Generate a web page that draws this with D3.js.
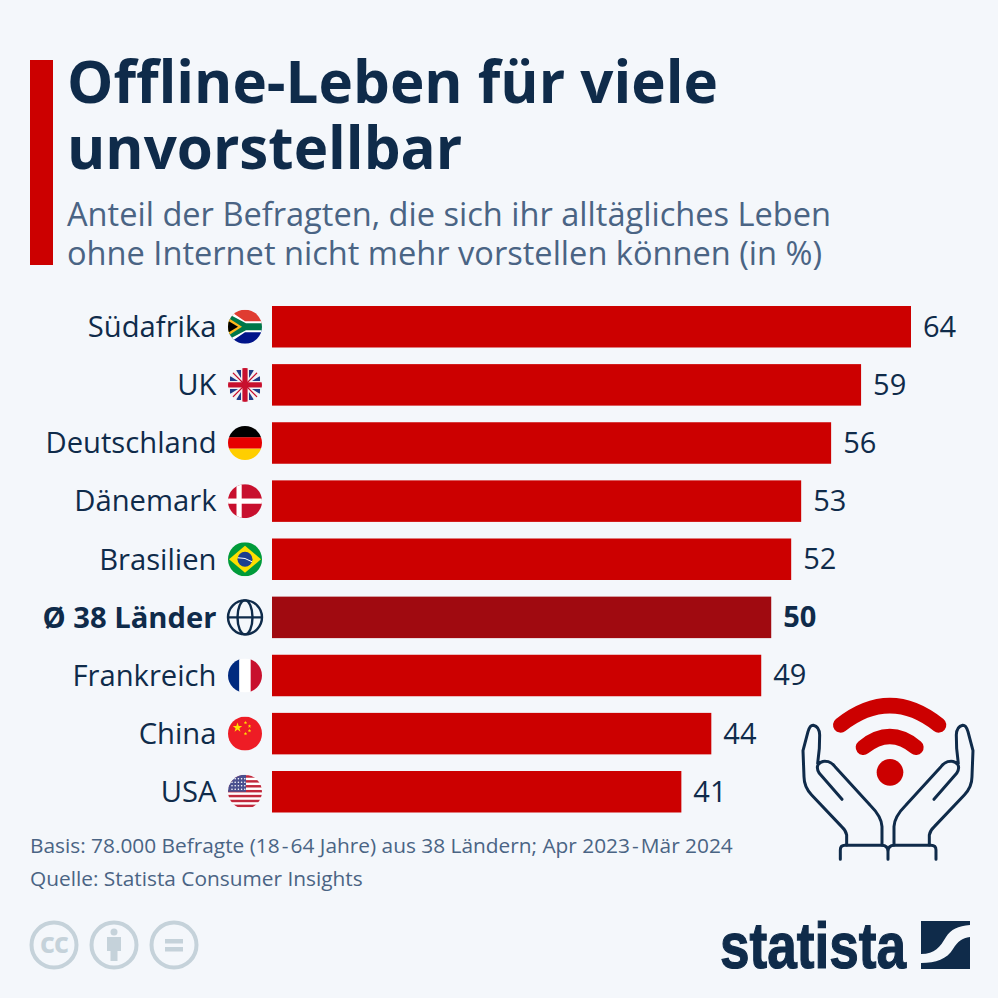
<!DOCTYPE html>
<html>
<head>
<meta charset="utf-8">
<script src="https://cdn.jsdelivr.net/npm/d3@7"></script>
<style>
  html, body { margin: 0; padding: 0; background: #f4f7fb; }
  svg { display: block; }
  text { font-family: "Open Sans", sans-serif; }
</style>
</head>
<body>
<div id="chart"></div>
<script>
// chart data
var countries = ["Südafrika", "UK", "Deutschland", "Dänemark", "Brasilien", "Ø 38 Länder", "Frankreich", "China", "USA"];
var shares = [64, 59, 56, 53, 52, 50, 49, 44, 41];
var flagCodes = ["za", "uk", "de", "dk", "br", "globe", "fr", "cn", "us"];
var highlight = "Ø 38 Länder";

var titleLines = ["Offline-Leben für viele", "unvorstellbar"];
var subtitleLines = ["Anteil der Befragten, die sich ihr alltägliches Leben", "ohne Internet nicht mehr vorstellen können (in %)"];
var footLines = ["Basis: 78.000 Befragte (18\u200A-\u200A64 Jahre) aus 38 Ländern; Apr 2023\u200A-\u200AMär 2024", "Quelle: Statista Consumer Insights"];

var navy = "#0f2b4a", slate = "#4a6484", red = "#cc0000", darkRed = "#a00a10", grey = "#c5d2da";

var svg = d3.select("#chart").append("svg")
  .attr("width", 998)
  .attr("height", 998)
  .style("background", "#f4f7fb");

// header
svg.append("rect").attr("x", 30).attr("y", 60).attr("width", 23).attr("height", 205).attr("fill", red);

svg.selectAll(".title").data(titleLines).enter().append("text")
  .attr("class", "title")
  .attr("x", 67)
  .attr("y", function (d, i) { return 103 + i * 66; })
  .attr("fill", navy)
  .style("font-size", "58.3px")
  .style("font-weight", 700)
  .text(function (d) { return d; });

svg.selectAll(".subtitle").data(subtitleLines).enter().append("text")
  .attr("class", "subtitle")
  .attr("x", 67)
  .attr("y", function (d, i) { return 226 + i * 39; })
  .attr("fill", slate)
  .style("font-size", "32.6px")
  .text(function (d) { return d; });

// scales
var x = d3.scaleLinear().domain([0, 64]).range([272, 911]);
var y = d3.scaleBand().domain(countries).range([306, 812.5]).paddingInner(0.286).paddingOuter(0);

// bars
svg.selectAll(".bar").data(countries).enter().append("rect")
  .attr("class", "bar")
  .attr("x", x(0))
  .attr("y", function (d) { return y(d); })
  .attr("width", function (d, i) { return x(shares[i]) - x(0); })
  .attr("height", y.bandwidth())
  .attr("fill", function (d) { return d === highlight ? darkRed : red; });

// value labels
svg.selectAll(".value").data(countries).enter().append("text")
  .attr("class", "value")
  .attr("x", function (d, i) { return x(shares[i]) + 12; })
  .attr("y", function (d) { return y(d) + y.bandwidth() / 2 + 10; })
  .attr("fill", navy)
  .style("font-size", "29px")
  .style("font-weight", function (d) { return d === highlight ? 700 : 400; })
  .text(function (d, i) { return shares[i]; });

// category axis
var axis = svg.append("g")
  .attr("transform", "translate(" + x(0) + ",1)")
  .call(d3.axisLeft(y).tickSize(0).tickPadding(55.5));
axis.select(".domain").remove();
axis.selectAll("text")
  .attr("fill", navy)
  .style("font-family", '"Open Sans", sans-serif')
  .style("font-size", "29.2px")
  .style("font-weight", function (d) { return d === highlight ? 700 : 400; });

// flags
var defs = svg.append("defs");
defs.append("clipPath").attr("id", "flagClip").append("circle").attr("r", 17);

function block(g, px, py, w, h, fill) {
  g.append("rect").attr("x", px).attr("y", py).attr("width", w).attr("height", h).attr("fill", fill);
}
function star(g, cx, cy, r, fill) {
  var pts = [];
  for (var i = 0; i < 10; i++) {
    var a = -Math.PI / 2 + i * Math.PI / 5, q = i % 2 ? r * 0.4 : r;
    pts.push([cx + q * Math.cos(a), cy + q * Math.sin(a)].join(","));
  }
  g.append("polygon").attr("points", pts.join(" ")).attr("fill", fill);
}

var drawFlag = {
  za: function (g) {
    block(g, -17, -17, 34, 17, "#e03c31");
    block(g, -17, 0, 34, 17, "#001489");
    g.append("path").attr("d", "M-17,-17L0,-5.5H17V5.5H0L-17,17Z").attr("fill", "#fff");
    g.append("path").attr("d", "M-17,-13L1,-3.5H17V3.5H1L-17,13Z").attr("fill", "#007749");
    g.append("path").attr("d", "M-17,-9L-3,0L-17,9Z").attr("fill", "#ffb81c");
    g.append("path").attr("d", "M-17,-6L-7,0L-17,6Z").attr("fill", "#000");
  },
  uk: function (g) {
    block(g, -17, -17, 34, 34, "#f2f2f4");
    g.append("path").attr("d", "M-15,-9L-7,-4H-15ZM-9,-15L-4,-7V-15ZM9,-15L4,-7V-15ZM15,-9L7,-4H15ZM-15,9L-7,4H-15ZM-9,15L-4,7V15ZM9,15L4,7V15ZM15,9L7,4H15Z")
      .attr("fill", "#1f3c88");
    g.append("path").attr("d", "M-14,-14L14,14M14,-14L-14,14").attr("stroke", "#c8102e").attr("stroke-width", 1.4);
    block(g, -17, -2.6, 34, 5.2, "#c8102e");
    block(g, -2.6, -17, 5.2, 34, "#c8102e");
  },
  de: function (g) {
    block(g, -17, -17, 34, 11.5, "#000");
    block(g, -17, -5.7, 34, 11.4, "#e60000");
    block(g, -17, 5.7, 34, 11.5, "#ffce00");
  },
  dk: function (g) {
    block(g, -17, -17, 34, 34, "#c8102e");
    block(g, -17, -2.6, 34, 5.2, "#fff");
    block(g, -8.5, -17, 5.2, 34, "#fff");
  },
  br: function (g) {
    block(g, -17, -17, 34, 34, "#009b3a");
    g.append("path").attr("d", "M0,-13.5L16,0L0,13.5L-16,0Z").attr("fill", "#fedf00");
    g.append("circle").attr("r", 7.5).attr("fill", "#1e3f8f");
    g.append("path").attr("d", "M-7,-1.5Q0,-2 7,2.5").attr("fill", "none").attr("stroke", "#fff").attr("stroke-width", 1);
  },
  globe: function (g) {
    var c = g.append("g").attr("fill", "none").attr("stroke", navy).attr("stroke-width", 2.4);
    c.append("circle").attr("r", 17);
    c.append("ellipse").attr("rx", 7.5).attr("ry", 17);
    c.append("path").attr("d", "M-17,0H17");
  },
  fr: function (g) {
    block(g, -17, -17, 11.5, 34, "#002a7f");
    block(g, -5.7, -17, 11.4, 34, "#fff");
    block(g, 5.7, -17, 11.5, 34, "#c8102e");
  },
  cn: function (g) {
    block(g, -17, -17, 34, 34, "#ee1c25");
    star(g, -7.5, -6, 5, "#ffe000");
    star(g, 0.5, -11, 1.9, "#ffe000");
    star(g, 4.5, -7.5, 1.9, "#ffe000");
    star(g, 4.5, -3, 1.9, "#ffe000");
    star(g, 0.5, 0, 1.9, "#ffe000");
  },
  us: function (g) {
    block(g, -17, -17, 34, 34, "#fff");
    d3.range(0, 7).forEach(function (i) {
      block(g, -17, -16.5 + i * 4.9, 34, 2.45, "#c1283c");
    });
    block(g, -17, -17, 18, 17, "#4a4f8f");
    d3.range(0, 4).forEach(function (r) {
      d3.range(0, 5).forEach(function (c) {
        g.append("circle").attr("cx", -13 + c * 3.2).attr("cy", -13 + r * 3.5).attr("r", 0.8).attr("fill", "#fff");
      });
    });
  }
};

countries.forEach(function (d, i) {
  var g = svg.append("g")
    .attr("transform", "translate(245," + (y(d) + y.bandwidth() / 2) + ")");
  if (flagCodes[i] === "globe") {
    drawFlag.globe(g);
  } else {
    drawFlag[flagCodes[i]](g.append("g").attr("clip-path", "url(#flagClip)"));
  }
});

// wifi + hands icon
var icon = svg.append("g").attr("transform", "translate(780,680) scale(0.3333)");
var wifi = icon.append("g").attr("fill", "none").attr("stroke", red).attr("stroke-linecap", "round");
wifi.append("path").attr("d", "M182,135Q330,19 476,135").attr("stroke-width", 46);
wifi.append("path").attr("d", "M250,202Q330,137 408,202").attr("stroke-width", 46);
icon.append("circle").attr("cx", 330).attr("cy", 277).attr("r", 40).attr("fill", red);

var hands = icon.append("g").attr("fill", "none").attr("stroke", navy).attr("stroke-width", 9)
  .attr("stroke-linecap", "round").attr("stroke-linejoin", "round");
var handLeft = "M200,495V465Q198,452 185,440L95,345Q72,320 72,290L69,212L84,155Q90,135 100,136Q118,140 119,165L118,205L113,250"
  + "M186,358L118,280Q108,265 115,253Q125,240 145,245Q155,248 165,260L270,375Q305,410 306,440V495";
hands.append("path").attr("d", handLeft);
hands.append("path").attr("d", handLeft).attr("transform", "translate(648,0) scale(-1,1)");
hands.append("path").attr("d", "M181,538V510Q181,496 195,496H305Q324,496 324,515V538M324,515Q324,496 343,496H453Q468,496 468,510V538");

// footnotes
svg.selectAll(".foot").data(footLines).enter().append("text")
  .attr("class", "foot")
  .attr("x", 30)
  .attr("y", function (d, i) { return 853 + i * 32.5; })
  .attr("fill", slate)
  .style("font-size", "20.85px")
  .text(function (d) { return d; });

// licence badges
var badgeX = [54, 114, 174];
var badges = svg.selectAll(".badge").data(badgeX).enter().append("g")
  .attr("class", "badge")
  .attr("transform", function (d) { return "translate(" + d + ",945)"; });
badges.append("circle").attr("r", 22.5).attr("fill", "none").attr("stroke", grey).attr("stroke-width", 4);
badges.filter(function (d, i) { return i === 0; }).append("text")
  .attr("text-anchor", "middle").attr("y", 8).attr("fill", grey)
  .style("font-size", "29px").style("font-weight", 700).style("letter-spacing", "-1px").text("cc");
var person = badges.filter(function (d, i) { return i === 1; });
person.append("circle").attr("cy", -13).attr("r", 3.5).attr("fill", grey);
person.append("path").attr("d", "M-7,-8H7V6H3.5V16H-3.5V6H-7Z").attr("fill", grey);
var equal = badges.filter(function (d, i) { return i === 2; });
equal.append("rect").attr("x", -9).attr("y", -6).attr("width", 18).attr("height", 4.5).attr("fill", grey);
equal.append("rect").attr("x", -9).attr("y", 2).attr("width", 18).attr("height", 4.5).attr("fill", grey);

// statista logo
svg.append("text")
  .attr("x", 720)
  .attr("y", 968)
  .attr("fill", navy)
  .attr("stroke", navy)
  .attr("stroke-width", 1.2)
  .attr("textLength", 186)
  .attr("lengthAdjust", "spacingAndGlyphs")
  .style("font-family", '"Liberation Sans Narrow", "Liberation Sans", sans-serif')
  .style("font-size", "64px")
  .style("font-weight", 700)
  .text("statista");

var logo = svg.append("g").attr("transform", "translate(921,921)");
logo.append("rect").attr("width", 49).attr("height", 48).attr("fill", navy);
logo.append("path")
  .attr("d", "M0,33C14,33 19,26 25,16C30,8 37,5 49,4V16C41,17 37,20 32,28C26,38 15,42 0,42Z")
  .attr("fill", "#f4f7fb");
</script>
</body>
</html>
